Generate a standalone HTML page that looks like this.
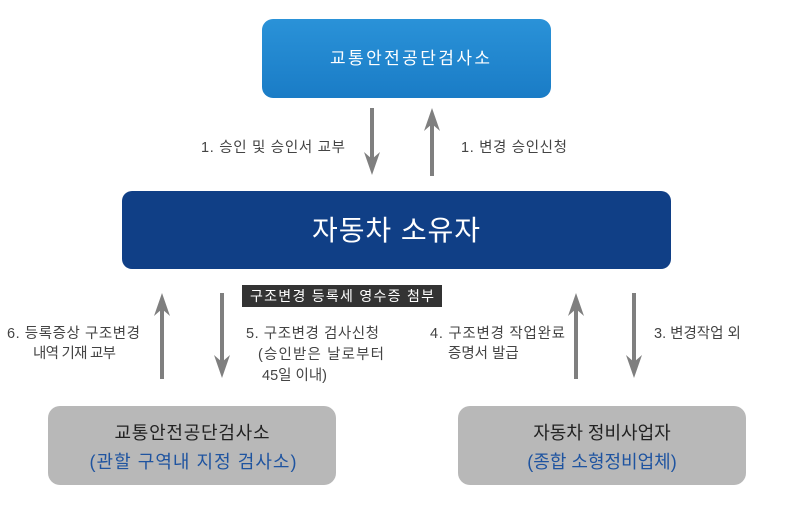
<!DOCTYPE html>
<html><head><meta charset="utf-8"><style>
body{margin:0;background:#fff;}
svg{display:block;font-family:"Liberation Sans","Noto Sans CJK KR",sans-serif;}
</style></head><body>
<svg width="802" height="510" viewBox="0 0 802 510" xmlns="http://www.w3.org/2000/svg">
<defs>
<linearGradient id="g" x1="0" y1="0" x2="0" y2="1"><stop offset="0" stop-color="#2a92d8"/><stop offset="1" stop-color="#1a7cc6"/></linearGradient>
</defs>
<rect x="262" y="19" width="289" height="79" rx="11" fill="url(#g)"/>
<text x="410" y="64" font-size="17" fill="#fff" text-anchor="middle" textLength="160">교통안전공단검사소</text>

<rect x="122" y="191" width="549" height="78" rx="10" fill="#103f86"/>
<text x="396" y="240" font-size="28" fill="#fff" text-anchor="middle" textLength="168">자동차 소유자</text>

<rect x="242" y="285" width="200" height="22" fill="#333"/>
<text x="342" y="301" font-size="14" fill="#fff" text-anchor="middle" textLength="184">구조변경 등록세 영수증 첨부</text>

<rect x="48" y="406" width="288" height="79" rx="12" fill="#b8b8b8"/>
<text x="192" y="439" font-size="18" fill="#222" text-anchor="middle" textLength="155">교통안전공단검사소</text>
<text x="193" y="468" font-size="18" fill="#1f54a0" text-anchor="middle" textLength="207">(관할 구역내 지정 검사소)</text>

<rect x="458" y="406" width="288" height="79" rx="12" fill="#b8b8b8"/>
<text x="602" y="439" font-size="18" fill="#222" text-anchor="middle">자동차 정비사업자</text>
<text x="602" y="468" font-size="18" fill="#1f54a0" text-anchor="middle">(종합 소형정비업체)</text>

<g fill="#7f7f7f" stroke="#7f7f7f" stroke-width="4">
<line x1="372" y1="108" x2="372" y2="160"/>
<line x1="432" y1="124" x2="432" y2="176"/>
<line x1="162" y1="309" x2="162" y2="379"/>
<line x1="222" y1="293" x2="222" y2="362"/>
<line x1="576" y1="309" x2="576" y2="379"/>
<line x1="634" y1="293" x2="634" y2="362"/>
</g>
<g fill="#7f7f7f">
<path d="M372 175 L364 152 L372 159 L380 152 Z"/>
<path d="M432 108 L424 131 L432 124 L440 131 Z"/>
<path d="M162 293 L154 316 L162 309 L170 316 Z"/>
<path d="M222 378 L214 355 L222 362 L230 355 Z"/>
<path d="M576 293 L568 316 L576 309 L584 316 Z"/>
<path d="M634 378 L626 355 L634 362 L642 355 Z"/>
</g>

<g font-size="14.5" fill="#444">
<text x="201" y="152" textLength="144">1. 승인 및 승인서 교부</text>
<text x="461" y="152" textLength="106">1. 변경 승인신청</text>
<text x="7" y="338" textLength="133">6. 등록증상 구조변경</text>
<text x="33" y="358" textLength="83">내역 기재 교부</text>
<text x="246" y="338" textLength="133">5. 구조변경 검사신청</text>
<text x="258" y="359" textLength="126">(승인받은 날로부터</text>
<text x="262" y="380">45일 이내)</text>
<text x="430" y="338" textLength="135">4. 구조변경 작업완료</text>
<text x="448" y="358">증명서 발급</text>
<text x="654" y="338">3. 변경작업 외</text>
</g>
</svg>
</body></html>
